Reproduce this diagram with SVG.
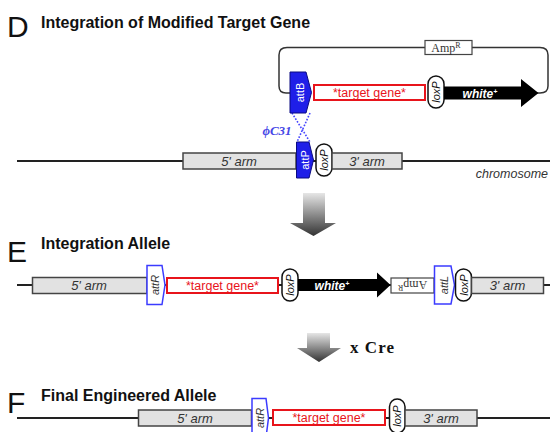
<svg xmlns="http://www.w3.org/2000/svg" width="550" height="432" viewBox="0 0 550 432">
<defs>
<style>
.letter{font-family:"Liberation Sans",Arial,sans-serif;font-size:30px;fill:#111}
.title{font-family:"Liberation Sans",Arial,sans-serif;font-size:16px;font-weight:bold;fill:#111}
.arm{fill:#e2e2e2;stroke:#444;stroke-width:1.5}
.armt{font-family:"Liberation Sans",Arial,sans-serif;font-size:13px;font-style:italic;fill:#333;text-anchor:middle}
.tg{fill:#fff;stroke:#e8141b;stroke-width:2}
.tgt{font-family:"Liberation Sans",Arial,sans-serif;font-size:12.5px;fill:#e8141b;text-anchor:middle}
.lox{fill:#fff;stroke:#111;stroke-width:1.5}
.loxt{font-family:"Liberation Sans",Arial,sans-serif;font-size:11px;font-style:italic;fill:#111;text-anchor:middle}
.attf{fill:#1f1fe8;stroke:#0a0a80;stroke-width:1}
.attft{font-family:"Liberation Sans",Arial,sans-serif;font-size:11px;fill:#fff;text-anchor:middle}
.atto{fill:#fff;stroke:#3b3bff;stroke-width:1.5}
.attot{font-family:"Liberation Sans",Arial,sans-serif;font-size:11px;font-style:italic;fill:#333;text-anchor:middle}
.amp{fill:#fff;stroke:#444;stroke-width:1.2}
.ampt{font-family:"Liberation Serif","Times New Roman",serif;font-size:12px;fill:#333;text-anchor:middle}
.wt{font-family:"Liberation Sans",Arial,sans-serif;font-size:12px;font-weight:bold;font-style:italic;fill:#fff;text-anchor:middle}
.chr{fill:none;stroke:#222;stroke-width:2}
</style>
<linearGradient id="grad" x1="0" y1="0" x2="0" y2="1">
<stop offset="0" stop-color="#e6e6e6"/>
<stop offset="1" stop-color="#333"/>
</linearGradient>
</defs>

<rect width="550" height="432" fill="#fff"/>

<!-- Section labels -->
<text class="letter" x="7" y="36.5">D</text>
<text class="title" x="41" y="28">Integration of Modified Target Gene</text>
<text class="letter" x="7" y="261.5">E</text>
<text class="title" x="41" y="249">Integration Allele</text>
<text class="letter" x="7" y="412.5">F</text>
<text class="title" x="41" y="401">Final Engineered Allele</text>

<!-- connectors / backbones -->
<g id="connectors">
<path class="chr" d="M17,161 H550"/>
<path class="chr" d="M17,285 H550"/>
<path class="chr" d="M17,418 H550"/>
<path fill="none" stroke="#333" stroke-width="1.5" d="M291,93 H286 Q279,93 279,86 V55 Q279,47.5 287,47.5 H540 Q548,47.5 548,55 V86 Q548,93 540,93 H536"/>
<path fill="none" stroke="#4545ff" stroke-width="1.6" stroke-dasharray="1.6,1.6" d="M292,113 L310,142 M310,113 L297,142"/>
<path fill="url(#grad)" d="M303,193 H325 V223 H336 L313.5,236 L290,223 H303 Z"/>
<path fill="url(#grad)" d="M307,333 H330 V348 H341 L319,362 L297,348 H307 Z"/>
</g>
<text x="277" y="135" font-family="Liberation Serif,'Times New Roman',serif" font-size="13" font-style="italic" font-weight="bold" fill="#4747e6" text-anchor="middle">ϕC31</text>
<text x="350" y="353" font-family="Liberation Serif,'Times New Roman',serif" font-size="17" font-weight="bold" fill="#111" textLength="44">x Cre</text>

<!-- Section D: plasmid -->
<g id="d-amp">
<rect class="amp" x="425" y="40.5" width="47" height="14"/>
<text class="ampt" x="446" y="52">Amp<tspan font-size="8" dy="-4">R</tspan></text>
</g>
<g id="d-attB">
<path class="attf" d="M290,72 H306 L311.5,92.5 L306,113 H290 Z"/>
<text class="attft" transform="translate(304,92.5) rotate(-90)">attB</text>
</g>
<g id="d-target">
<rect class="tg" x="314" y="85" width="111" height="15"/>
<text class="tgt" x="369.5" y="97">*target gene*</text>
</g>
<g id="d-loxP1">
<rect class="lox" x="428" y="76" width="16" height="32" rx="8"/>
<text class="loxt" transform="translate(440,92) rotate(-90)">loxP</text>
</g>
<g id="d-white">
<path fill="#000" d="M444,86.5 H521 V79 L538.5,93 L521,107 V99.5 H444 Z"/>
<text class="wt" x="480" y="97.5">white<tspan font-size="7" dy="-4">+</tspan></text>
</g>

<!-- Section D: chromosome -->
<g id="d-5arm">
<rect class="arm" x="183" y="153" width="113" height="16"/>
<text class="armt" x="239" y="165.5">5' arm</text>
</g>
<g id="d-attP">
<path class="attf" d="M296.5,142 H309 L313.5,160 L309,178 H296.5 Z"/>
<text class="attft" transform="translate(308.5,160) rotate(-90)">attP</text>
</g>
<g id="d-loxP2">
<rect class="lox" x="316" y="144" width="16" height="32" rx="8"/>
<text class="loxt" transform="translate(328,160) rotate(-90)">loxP</text>
</g>
<g id="d-3arm">
<rect class="arm" x="332" y="153" width="70" height="16"/>
<text class="armt" x="367" y="165.5">3' arm</text>
</g>
<text x="548" y="177.5" font-family="Liberation Sans,Arial,sans-serif" font-size="12.5" font-style="italic" fill="#333" text-anchor="end">chromosome</text>

<!-- Section E -->
<g id="e-5arm">
<rect class="arm" x="32.5" y="277.5" width="114.5" height="16"/>
<text class="armt" x="89" y="290">5' arm</text>
</g>
<g id="e-attR">
<path class="atto" d="M147,265.5 H162 L165,285 L162,304.5 H147 Z"/>
<text class="attot" transform="translate(159,285) rotate(-90)">attR</text>
</g>
<g id="e-target">
<rect class="tg" x="167" y="278" width="111" height="15"/>
<text class="tgt" x="222.5" y="290">*target gene*</text>
</g>
<g id="e-loxP1">
<rect class="lox" x="282" y="269" width="16" height="32" rx="8"/>
<text class="loxt" transform="translate(294,285) rotate(-90)">loxP</text>
</g>
<g id="e-white">
<path fill="#000" d="M298,279 H377 V272.5 L390.5,285 L377,297.5 V291 H298 Z"/>
<text class="wt" x="332" y="289.5">white<tspan font-size="7" dy="-4">+</tspan></text>
</g>
<g id="e-amp">
<rect class="amp" x="391" y="278" width="43" height="15"/>
<text class="ampt" transform="translate(412.5,285.5) rotate(180)" y="4.5">Amp<tspan font-size="8" dy="-4">R</tspan></text>
</g>
<g id="e-attL">
<path class="atto" d="M434.5,266 H451 L454.5,285 L451,304 H434.5 Z"/>
<text class="attot" transform="translate(447.5,285) rotate(-90)">attL</text>
</g>
<g id="e-loxP2">
<rect class="lox" x="455.5" y="269" width="16" height="32" rx="8"/>
<text class="loxt" transform="translate(467.5,285) rotate(-90)">loxP</text>
</g>
<g id="e-3arm">
<rect class="arm" x="471.5" y="277.5" width="72" height="16"/>
<text class="armt" x="507.5" y="290">3' arm</text>
</g>

<!-- Section F -->
<g id="f-5arm">
<rect class="arm" x="138.5" y="410" width="113" height="16"/>
<text class="armt" x="195" y="422.5">5' arm</text>
</g>
<g id="f-attR">
<path class="atto" d="M252,398.5 H266 L268.5,418 L266,437.5 H252 Z"/>
<text class="attot" transform="translate(263.5,418) rotate(-90)">attR</text>
</g>
<g id="f-target">
<rect class="tg" x="273" y="410" width="112" height="15"/>
<text class="tgt" x="329" y="422">*target gene*</text>
</g>
<g id="f-loxP">
<rect class="lox" x="389.5" y="399" width="15.5" height="34" rx="7.75"/>
<text class="loxt" transform="translate(401,416) rotate(-90)">loxP</text>
</g>
<g id="f-3arm">
<rect class="arm" x="405" y="410" width="72" height="16"/>
<text class="armt" x="441" y="422.5">3' arm</text>
</g>
</svg>
